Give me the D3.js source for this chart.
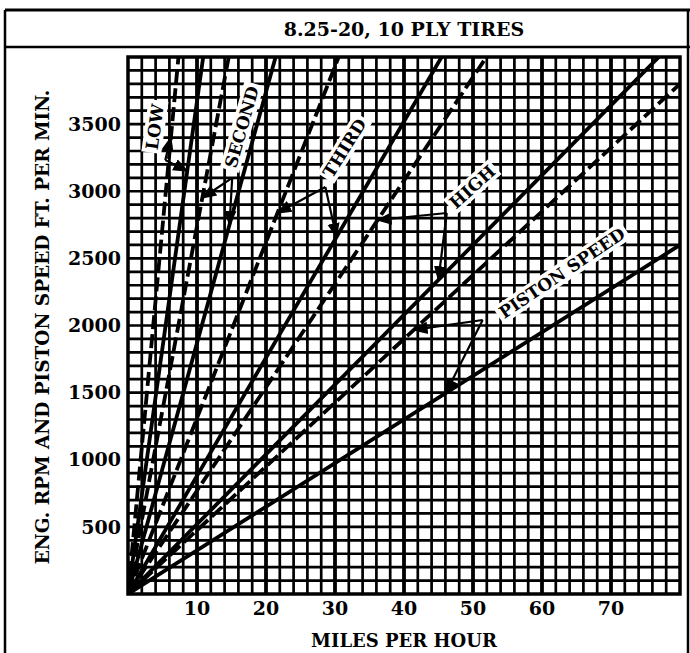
<!DOCTYPE html>
<html><head><meta charset="utf-8">
<script src="https://cdn.jsdelivr.net/npm/d3@7"></script>
<style>body{margin:0;background:#fff} svg{display:block}</style>
</head><body><svg id="chart" width="690" height="653"></svg>
<script>
const titleText = "8.25-20, 10 PLY TIRES";
const xTicks = [10, 20, 30, 40, 50, 60, 70];
const yTicks = [500, 1000, 1500, 2000, 2500, 3000, 3500];
const xTitle = "MILES PER HOUR";
const yTitle = "ENG. RPM AND PISTON SPEED FT. PER MIN.";

// Each line: revolutions (or piston ft/min) per mile per hour
const lineNames  = ["LOW", "LOW", "SECOND", "SECOND", "THIRD", "THIRD", "HIGH", "HIGH", "PISTON SPEED", "PISTON SPEED"];
const lineSlopes = [367, 547, 187, 274, 88, 131, 52, 77, 32.5, 47.5];
const lineDashed = [false, true, false, true, false, true, false, true, false, true];

// Gear labels
const labelText  = ["LOW", "SECOND", "THIRD", "HIGH", "PISTON SPEED"];
const labelMph   = [3.9, 16.5, 31.4, 49.9, 62.9];
const labelRpm   = [3479, 3479, 3322, 3032, 2391];
const labelAngle = [-82, -74, -58, -42, -34];

// Leaders: elbow point per label, then target line index and rpm where each arrow lands
const leaderMph = [5.4, 15.1, 28.6, 46.2, 51.4];
const leaderRpm = [3233, 3099, 3032, 2838, 2041];
const leaderTargets = [
  [[1, 3400], [0, 3150]],
  [[3, 2950], [2, 2750]],
  [[5, 2838], [4, 2659]],
  [[7, 2786], [6, 2339]],
  [[9, 1967], [8, 1497]]
];

const svg = d3.select("#chart");
const plot = {left: 128, right: 680, top: 57, bottom: 594};

const x = d3.scaleLinear().domain([0, 80]).range([plot.left, plot.right]);
const y = d3.scaleLinear().domain([0, 4000]).range([plot.bottom, plot.top]);

const font = "'DejaVu Serif', serif";

// Outer frame and title strip
const frame = svg.append("g").attr("stroke", "#000").attr("fill", "none");
frame.append("line").attr("x1", 5).attr("x2", 690).attr("y1", 10).attr("y2", 10).attr("stroke-width", 3);
frame.append("line").attr("x1", 5).attr("x2", 5).attr("y1", 10).attr("y2", 653).attr("stroke-width", 2.5);
frame.append("line").attr("x1", 688).attr("x2", 688).attr("y1", 10).attr("y2", 653).attr("stroke-width", 2.5);
frame.append("line").attr("x1", 5).attr("x2", 690).attr("y1", 47).attr("y2", 47).attr("stroke-width", 2.5);

svg.append("text").attr("x", 404).attr("y", 36).attr("text-anchor", "middle")
  .attr("font-family", font).attr("font-weight", "bold").attr("font-size", 19)
  .text(titleText);

// Grid: 2 mph by 100 rpm, heavier every 10 mph
const grid = svg.append("g").attr("stroke", "#000");
grid.selectAll(".v").data(d3.range(2, 80, 2)).join("line")
  .attr("x1", d => x(d)).attr("x2", d => x(d)).attr("y1", plot.top).attr("y2", plot.bottom)
  .attr("stroke-width", d => d % 10 === 0 ? 3.8 : 2.7);
grid.selectAll(".h").data(d3.range(100, 4000, 100)).join("line")
  .attr("x1", plot.left).attr("x2", plot.right).attr("y1", d => y(d)).attr("y2", d => y(d))
  .attr("stroke-width", 2.7);

svg.append("defs").append("clipPath").attr("id", "clip")
  .append("rect").attr("x", plot.left).attr("y", plot.top)
  .attr("width", plot.right - plot.left).attr("height", plot.bottom - plot.top);

// Speed lines
const lineGen = d3.line().x(d => x(d[0])).y(d => y(d[1]));
svg.append("g").attr("clip-path", "url(#clip)")
  .selectAll("path").data(lineSlopes.map((s, i) => ({s, dashed: lineDashed[i]}))).join("path")
  .attr("d", d => lineGen([[0, 0], [80, d.s * 80]]))
  .attr("fill", "none").attr("stroke", "#000").attr("stroke-width", 3.8)
  .attr("stroke-dasharray", d => d.dashed ? "14,5" : null);

// Plot border
svg.append("rect").attr("x", plot.left).attr("y", plot.top)
  .attr("width", plot.right - plot.left).attr("height", plot.bottom - plot.top)
  .attr("fill", "none").attr("stroke", "#000").attr("stroke-width", 3.5);

// Leaders with arrowheads
svg.append("defs").append("marker").attr("id", "arrow")
  .attr("viewBox", "0 0 10 10").attr("refX", 9).attr("refY", 5)
  .attr("markerWidth", 7).attr("markerHeight", 7).attr("orient", "auto")
  .append("path").attr("d", "M0,1 L10,5 L0,9 Z").attr("fill", "#000");

const leaders = svg.append("g").attr("stroke", "#000").attr("stroke-width", 2.2).attr("fill", "none");
leaderTargets.forEach((targets, i) => {
  targets.forEach(([li, r]) => {
    leaders.append("line")
      .attr("x1", x(leaderMph[i])).attr("y1", y(leaderRpm[i]))
      .attr("x2", x(r / lineSlopes[li])).attr("y2", y(r))
      .attr("marker-end", "url(#arrow)");
  });
});

// Gear labels on white patches
labelText.forEach((t, i) => {
  const g = svg.append("g")
    .attr("transform", `translate(${x(labelMph[i])},${y(labelRpm[i])}) rotate(${labelAngle[i]})`);
  const txt = g.append("text").attr("text-anchor", "middle").attr("dy", "0.35em")
    .attr("font-family", font).attr("font-weight", "bold").attr("font-size", 17)
    .text(t);
  const bb = txt.node().getBBox();
  g.insert("rect", "text").attr("x", bb.x - 3).attr("y", bb.y)
    .attr("width", bb.width + 6).attr("height", bb.height).attr("fill", "#fff");
});

// Axis tick labels
svg.append("g").selectAll("text").data(yTicks).join("text")
  .attr("x", plot.left - 7).attr("y", d => y(d)).attr("dy", "0.35em")
  .attr("text-anchor", "end").attr("font-family", font).attr("font-weight", "bold").attr("font-size", 19)
  .text(d => d);
svg.append("g").selectAll("text").data(xTicks).join("text")
  .attr("x", d => x(d)).attr("y", 615)
  .attr("text-anchor", "middle").attr("font-family", font).attr("font-weight", "bold").attr("font-size", 19)
  .text(d => d);

svg.append("text").attr("x", 404).attr("y", 647).attr("text-anchor", "middle")
  .attr("font-family", font).attr("font-weight", "bold").attr("font-size", 18).text(xTitle);
svg.append("text").attr("transform", `translate(49,327) rotate(-90)`).attr("text-anchor", "middle")
  .attr("font-family", font).attr("font-weight", "bold").attr("font-size", 18.5).text(yTitle);
</script></body></html>
